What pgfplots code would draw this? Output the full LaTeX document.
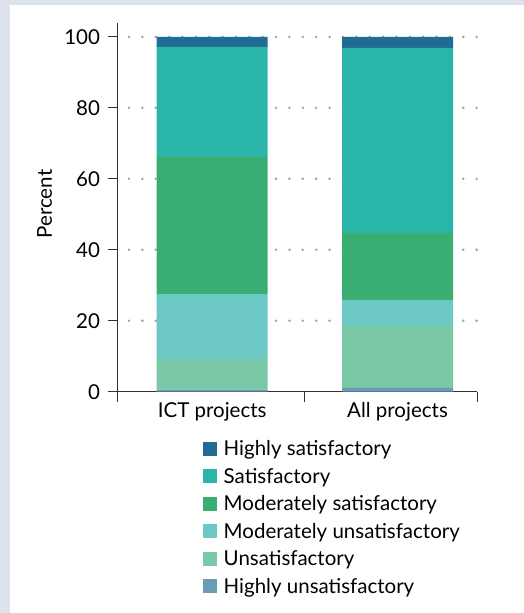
\documentclass[border=0pt]{standalone}
\usepackage{pgfplots}
\usepackage{pgfplotstable}
\pgfplotsset{compat=1.18}
\usepackage{fontspec}
\setmainfont{Lato}

\definecolor{bgc}{HTML}{DDE3EE}
\definecolor{cHS}{HTML}{216C95}
\definecolor{cS}{HTML}{2AB5A9}
\definecolor{cMS}{HTML}{3AAE72}
\definecolor{cMU}{HTML}{6CC8C5}
\definecolor{cU}{HTML}{79C9A6}
\definecolor{cHU}{HTML}{6A9DB5}
\definecolor{gridgray}{HTML}{A4A4A4}
\definecolor{axgray}{HTML}{333333}

% Project ratings, percent of projects in each category
\pgfplotstableread{
x HU U MU MS S HS
0 0.6 8.6 18.3 38.6 31.1 2.8
1 1.1 17.4 7.4 18.8 52.2 3.1
}\ratings

\begin{document}
\begin{tikzpicture}[font=\fontsize{20.5bp}{24bp}\selectfont]
\fill[bgc] (0,0) rectangle (524bp,613bp);
\fill[white] (10bp,0) rectangle (524bp,608bp);
\begin{axis}[
  at={(117.7bp,221.3bp)}, anchor=south west,
  scale only axis, width=359.3bp, height=369bp,
  xmin=-0.51, xmax=1.429, ymin=0, ymax=104,
  ybar stacked, bar width=111bp,
  axis lines*=left,
  axis line style={color=axgray, line width=1.1bp},
  tick style={color=axgray, line width=1bp},
  tick align=outside, major tick length=10bp,
  ytick={20,40,60,80,100},
  extra y ticks={0}, extra y tick style={grid=none},
  yticklabel style={inner sep=0pt, xshift=-7.5bp},
  ymajorgrids,
  grid style={color=gridgray, line width=2.8bp, line cap=round,
    dash pattern=on 0pt off 13.37bp, dash phase=2.07bp},
  xtick={-0.51,0.5,1.429}, xticklabels={},
  extra x ticks={0,1}, extra x tick labels={ICT projects,All projects},
  extra x tick style={major tick length=0pt, grid=none,
    xticklabel style={yshift=-7bp}},
  /pgf/number format/assume math mode=true,
  ylabel={Percent},
  every axis y label/.style={at={(axis description cs:-0.2032,0.5087)}, rotate=90, anchor=center},
  legend style={at={(axis description cs:0.2366,-0.1355)}, anchor=north west,
    draw=none, fill=none, inner sep=0pt, outer sep=0pt,
    row sep=13.5bp, column sep=7bp,
    nodes={inner sep=0pt, text height=14bp, text depth=0pt, anchor=west}},
  legend cell align=left,
  reverse legend,
  legend image code/.code={\fill[#1] (0bp,-7bp) rectangle (14bp,7bp);},
]
\addplot[fill=cHU, draw=none] table[x=x, y=HU]{\ratings};
\addlegendentry{Highly unsatisfactory}
\addplot[fill=cU, draw=none] table[x=x, y=U]{\ratings};
\addlegendentry{Unsatisfactory}
\addplot[fill=cMU, draw=none] table[x=x, y=MU]{\ratings};
\addlegendentry{Moderately unsatisfactory}
\addplot[fill=cMS, draw=none] table[x=x, y=MS]{\ratings};
\addlegendentry{Moderately satisfactory}
\addplot[fill=cS, draw=none] table[x=x, y=S]{\ratings};
\addlegendentry{Satisfactory}
\addplot[fill=cHS, draw=none] table[x=x, y=HS]{\ratings};
\addlegendentry{Highly satisfactory}
\end{axis}
\end{tikzpicture}
\end{document}
